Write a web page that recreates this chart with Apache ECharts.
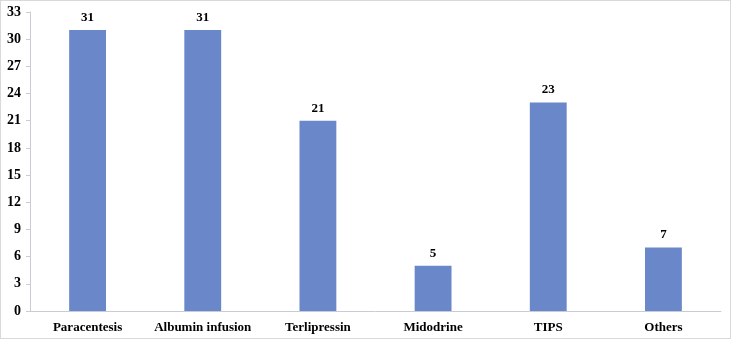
<!DOCTYPE html>
<html>
<head>
<meta charset="utf-8">
<script src="https://cdn.jsdelivr.net/npm/echarts@6/dist/echarts.min.js"></script>
<style>
  html, body { margin: 0; padding: 0; background: #fff; }
  #chart { width: 729px; height: 337px; border: 1px solid #d9d9d9; }
</style>
</head>
<body>
<div id="chart"></div>
<script>
// treatment categories and counts
const categories = ['Paracentesis', 'Albumin infusion', 'Terlipressin', 'Midodrine', 'TIPS', 'Others'];
const counts = [31, 31, 21, 5, 23, 7];

const fontFam = '"Liberation Serif", "Times New Roman", serif';

const myChart = echarts.init(document.getElementById('chart'));
myChart.setOption({
  animation: false,
  grid: { left: 29, right: 9, top: 11, bottom: 27 },
  xAxis: {
    type: 'category',
    data: categories,
    axisLine: { lineStyle: { color: '#c8ccd6', width: 1 } },
    axisTick: { show: false },
    axisLabel: {
      interval: 0,
      color: '#000',
      fontFamily: fontFam,
      fontWeight: 'bold',
      fontSize: 13,
      margin: 10
    }
  },
  yAxis: {
    type: 'value',
    min: 0,
    max: 33,
    interval: 3,
    splitLine: { show: false },
    axisLine: { show: true, lineStyle: { color: '#c8ccd6', width: 1 } },
    axisTick: { show: true, length: 4, lineStyle: { color: '#c8ccd6' } },
    axisLabel: {
      color: '#000',
      fontFamily: fontFam,
      fontWeight: 'bold',
      fontSize: 14,
      margin: 9
    }
  },
  series: [{
    type: 'bar',
    data: counts,
    barWidth: '32%',
    itemStyle: { color: '#6a87c9' },
    label: {
      show: true,
      position: 'top',
      distance: 6,
      color: '#000',
      fontFamily: fontFam,
      fontWeight: 'bold',
      fontSize: 13
    }
  }]
});

window.addEventListener('resize', () => {
  myChart.resize();
});
</script>
</body>
</html>
